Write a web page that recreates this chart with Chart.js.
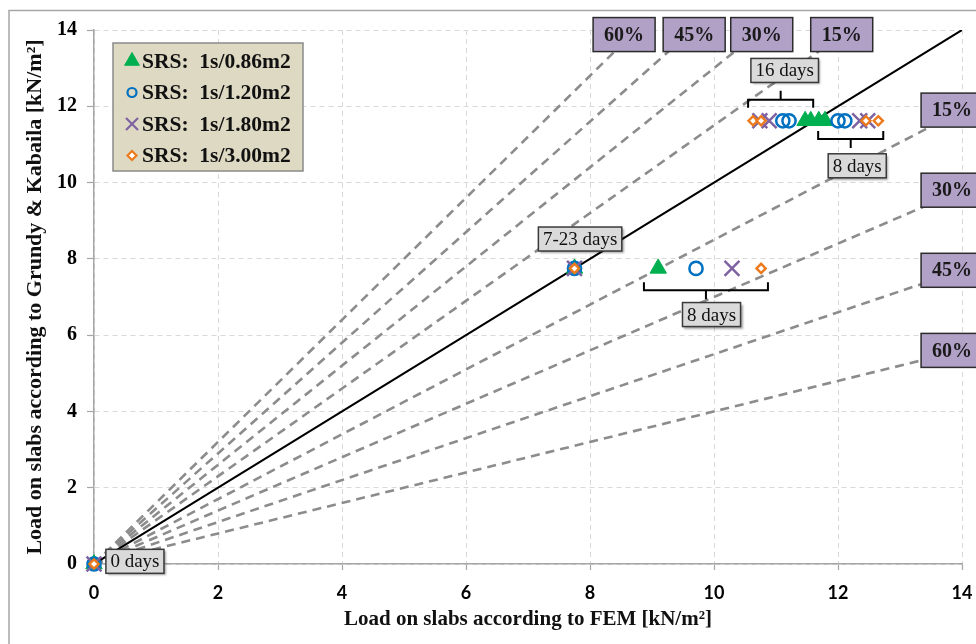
<!DOCTYPE html>
<html><head><meta charset="utf-8">
<script src="https://cdn.jsdelivr.net/npm/chart.js@4/dist/chart.umd.min.js"></script>
<style>html,body{margin:0;padding:0;background:#fff}#wrap{width:976px;height:644px;position:relative}</style>
</head><body><div id="wrap"><canvas id="c" width="976" height="644"></canvas></div>
<script>
// ---------------- DATA ----------------
const seriesLabels = ['SRS:  1s/0.86m2', 'SRS:  1s/1.20m2', 'SRS:  1s/1.80m2', 'SRS:  1s/3.00m2'];
// Load on slabs according to FEM (x) and Grundy & Kabaila (y), kN/m2
const srs086X = [0, 7.75, 9.10, 11.47, 11.56, 11.69, 11.79];
const srs086Y = [0, 7.75, 7.75, 11.62, 11.62, 11.62, 11.62];
const srs120X = [0, 7.75, 9.71, 11.11, 11.21, 12.00, 12.11];
const srs120Y = [0, 7.75, 7.75, 11.62, 11.62, 11.62, 11.62];
const srs180X = [0, 7.75, 10.29, 10.74, 10.89, 12.35, 12.48];
const srs180Y = [0, 7.75, 7.75, 11.62, 11.62, 11.62, 11.62];
const srs300X = [0, 7.75, 10.76, 10.63, 10.76, 12.45, 12.65];
const srs300Y = [0, 7.75, 7.75, 11.62, 11.62, 11.62, 11.62];
// reference lines y = ratio * x
const upperRatios = [1.60, 1.45, 1.30, 1.15];
const lowerRatios = [0.85, 0.70, 0.55, 0.40];
const upperLabels = ['60%', '45%', '30%', '15%'];
const lowerLabels = ['15%', '30%', '45%', '60%'];
const axisMax = 14;
const tickStep = 2;

// ---------------- ANNOTATION PLACEMENT (data coords) ----------------
const pctBoxes = [
  {text: upperLabels[0], x: 8.55, y: 13.88},
  {text: upperLabels[1], x: 9.68, y: 13.88},
  {text: upperLabels[2], x: 10.77, y: 13.88},
  {text: upperLabels[3], x: 12.06, y: 13.88},
  {text: lowerLabels[0], x: 13.84, y: axisMax * lowerRatios[0]},
  {text: lowerLabels[1], x: 13.84, y: axisMax * lowerRatios[1]},
  {text: lowerLabels[2], x: 13.84, y: axisMax * lowerRatios[2]},
  {text: lowerLabels[3], x: 13.84, y: axisMax * lowerRatios[3]}
];
const noteBoxes = [
  {text: '16 days', x: 11.14, y: 12.94},
  {text: '8 days', x: 12.31, y: 10.44},
  {text: '7-23 days', x: 7.84, y: 8.52},
  {text: '8 days', x: 9.96, y: 6.54},
  {text: '0 days', x: 0.66, y: 0.07}
];
const brackets = [
  {x1: 10.55, x2: 11.60, y: 12.17, dir: 'up'},
  {x1: 11.68, x2: 12.73, y: 11.14, dir: 'down'},
  {x1: 8.87, x2: 10.87, y: 7.18, dir: 'down'}
];

// ---------------- STYLE ----------------
const SERIF = '"Liberation Serif", "Times New Roman", serif';
const seriesStyles = [
  {color: '#00b050', style: 'triangle', r: 9.5, lr: 8.5, fill: '#00b050', lw: 1, order: 1.4},
  {color: '#0070c0', style: 'circle', r: 6.6, lr: 4.5, fill: 'rgba(0,0,0,0)', lw: 2.5, order: 1.3},
  {color: '#7e62a1', style: 'crossRot', r: 10.5, lr: 8.5, fill: '#7e62a1', lw: 2.5, order: 1.2},
  {color: '#ec7a1c', style: 'rectRot', r: 4.6, lr: 4.5, fill: '#ffffff', lw: 2.4, order: 1.1}
];
const seriesX = [srs086X, srs120X, srs180X, srs300X];
const seriesY = [srs086Y, srs120Y, srs180Y, srs300Y];

const datasets = [];
seriesLabels.forEach((lab, i) => {
  const st = seriesStyles[i];
  datasets.push({
    type: 'scatter', label: lab,
    data: seriesX[i].map((x, k) => ({x: x, y: seriesY[i][k]})),
    pointStyle: st.style, pointRadius: st.r, pointHoverRadius: st.r,
    borderColor: st.color, backgroundColor: st.fill, borderWidth: st.lw,
    clip: false, order: st.order
  });
});
datasets.push({
  type: 'line', label: 'y = x', data: [{x: 0, y: 0}, {x: axisMax, y: axisMax}],
  borderColor: '#000', borderWidth: 2, pointRadius: 0, fill: false, order: 2
});
upperRatios.forEach((r, i) => datasets.push({
  type: 'line', label: '+' + upperLabels[i], data: [{x: 0, y: 0}, {x: axisMax / r, y: axisMax}],
  borderColor: '#8c8c8c', borderWidth: 2.6, borderDash: [9, 6], pointRadius: 0, fill: false, order: 3
}));
lowerRatios.forEach((r, i) => datasets.push({
  type: 'line', label: '-' + lowerLabels[i], data: [{x: 0, y: 0}, {x: axisMax, y: axisMax * r}],
  borderColor: '#8c8c8c', borderWidth: 2.6, borderDash: [9, 6], pointRadius: 0, fill: false, order: 3
}));

function box(ctx, cx, cy, w, h, fill, stroke, shadow) {
  ctx.save();
  if (shadow) { ctx.shadowColor = 'rgba(0,0,0,0.35)'; ctx.shadowOffsetX = 2; ctx.shadowOffsetY = 2; ctx.shadowBlur = 2; }
  ctx.fillStyle = fill;
  ctx.fillRect(cx - w / 2, cy - h / 2, w, h);
  ctx.restore();
  ctx.save();
  ctx.strokeStyle = stroke; ctx.lineWidth = 1.5;
  ctx.strokeRect(cx - w / 2, cy - h / 2, w, h);
  ctx.restore();
}

const framePlugin = {
  id: 'frame',
  beforeDraw(chart) {
    const ctx = chart.ctx;
    ctx.save();
    ctx.fillStyle = '#fff'; ctx.fillRect(0, 0, chart.width, chart.height);
    ctx.strokeStyle = '#a6a6a6'; ctx.lineWidth = 1.5;
    ctx.beginPath(); ctx.moveTo(9, chart.height); ctx.lineTo(9, 10.5); ctx.lineTo(chart.width, 10.5); ctx.stroke();
    ctx.restore();
  }
};

const annotPlugin = {
  id: 'annot',
  afterDatasetsDraw(chart) {
    const ctx = chart.ctx, xs = chart.scales.x, ys = chart.scales.y, ca = chart.chartArea;
    // brackets
    ctx.save(); ctx.strokeStyle = '#000'; ctx.lineWidth = 2;
    brackets.forEach(b => {
      const a = xs.getPixelForValue(b.x1), c = xs.getPixelForValue(b.x2), y = ys.getPixelForValue(b.y);
      const m = (a + c) / 2;
      const e = b.dir === 'up' ? 8 : -8;
      const t = b.dir === 'up' ? -9 : 9;
      ctx.beginPath();
      ctx.moveTo(a, y + e); ctx.lineTo(a, y); ctx.lineTo(c, y); ctx.lineTo(c, y + e);
      ctx.moveTo(m, y); ctx.lineTo(m, y + t);
      ctx.stroke();
    });
    ctx.restore();
    // note boxes
    ctx.save();
    ctx.font = '19px ' + SERIF;
    noteBoxes.forEach(n => {
      const cx = xs.getPixelForValue(n.x), cy = ys.getPixelForValue(n.y);
      const w = ctx.measureText(n.text).width + 9;
      box(ctx, cx, cy, w, 24, '#dadada', '#3a3a3a', true);
      ctx.fillStyle = '#111'; ctx.textAlign = 'center'; ctx.textBaseline = 'middle';
      ctx.fillText(n.text, cx, cy + 1);
    });
    ctx.restore();
    // percentage boxes
    ctx.save();
    ctx.font = 'bold 20px ' + SERIF;
    pctBoxes.forEach(p => {
      const cx = xs.getPixelForValue(p.x), cy = ys.getPixelForValue(p.y);
      box(ctx, cx, cy, 62, 34, '#b2a1c7', '#2b2b2b', false);
      ctx.fillStyle = '#1a1a1a'; ctx.textAlign = 'center'; ctx.textBaseline = 'middle';
      ctx.fillText(p.text, cx, cy + 1);
    });
    ctx.restore();
    // legend
    ctx.save();
    const lx = 113, ly = 43, lw = 190, lh = 128;
    ctx.fillStyle = '#ddd9c3'; ctx.fillRect(lx, ly, lw, lh);
    ctx.strokeStyle = '#8a8a8a'; ctx.lineWidth = 1.5; ctx.strokeRect(lx, ly, lw, lh);
    ctx.font = 'bold 21.5px ' + SERIF; ctx.textBaseline = 'middle'; ctx.textAlign = 'left';
    chart.data.datasets.slice(0, 4).forEach((d, i) => {
      const st = seriesStyles[i];
      const yy = ly + 18 + i * 31.5;
      ctx.save();
      ctx.strokeStyle = st.color; ctx.fillStyle = st.fill; ctx.lineWidth = st.style === 'triangle' ? 1 : 2.2;
      Chart.helpers.drawPoint(ctx, {pointStyle: st.style, radius: st.lr, borderWidth: ctx.lineWidth, rotation: 0}, 132, yy);
      ctx.restore();
      ctx.fillStyle = '#111';
      ctx.fillText(d.label, 142, yy + 1);
    });
    ctx.restore();
    // axis titles
    ctx.save();
    ctx.fillStyle = '#111'; ctx.textAlign = 'center'; ctx.textBaseline = 'middle';
    ctx.font = 'bold 21px ' + SERIF;
    ctx.fillText('Load on slabs according to FEM [kN/m²]', (ca.left + ca.right) / 2, 620);
    ctx.font = 'bold 22px ' + SERIF;
    ctx.translate(35, (ca.top + ca.bottom) / 2); ctx.rotate(-Math.PI / 2);
    ctx.fillText('Load on slabs according to Grundy & Kabaila [kN/m²]', 0, 0);
    ctx.restore();
  }
};

new Chart(document.getElementById('c'), {
  type: 'scatter',
  data: {datasets: datasets},
  plugins: [framePlugin, annotPlugin],
  options: {
    responsive: false, animation: false, devicePixelRatio: 1,
    layout: {padding: {left: 0, top: 30, right: 14, bottom: 0}},
    plugins: {legend: {display: false}, tooltip: {enabled: false}},
    scales: {
      x: {
        type: 'linear', min: 0, max: axisMax,
        ticks: {stepSize: tickStep, color: '#000', padding: 12, font: {family: 'Lato', weight: 'bold', size: 18}},
        grid: {color: '#d9d9d9', lineWidth: 1, tickColor: '#a6a6a6', tickLength: 6, tickWidth: 1.2},
        border: {color: '#a6a6a6', width: 1.5, dash: [5, 4]},
        afterFit(s) { s.height = 80; s.paddingLeft = 0; s.paddingRight = 0; }
      },
      y: {
        type: 'linear', min: 0, max: axisMax,
        ticks: {stepSize: tickStep, color: '#000', padding: 10, font: {family: SERIF, weight: 'bold', size: 20}},
        grid: {color: '#d9d9d9', lineWidth: 1, tickColor: '#a6a6a6', tickLength: 7, tickWidth: 1.2},
        border: {color: '#a6a6a6', width: 1.5, dash: [5, 4]},
        afterFit(s) { s.width = 94; s.paddingTop = 0; s.paddingBottom = 0; }
      }
    }
  }
});
</script></body></html>
